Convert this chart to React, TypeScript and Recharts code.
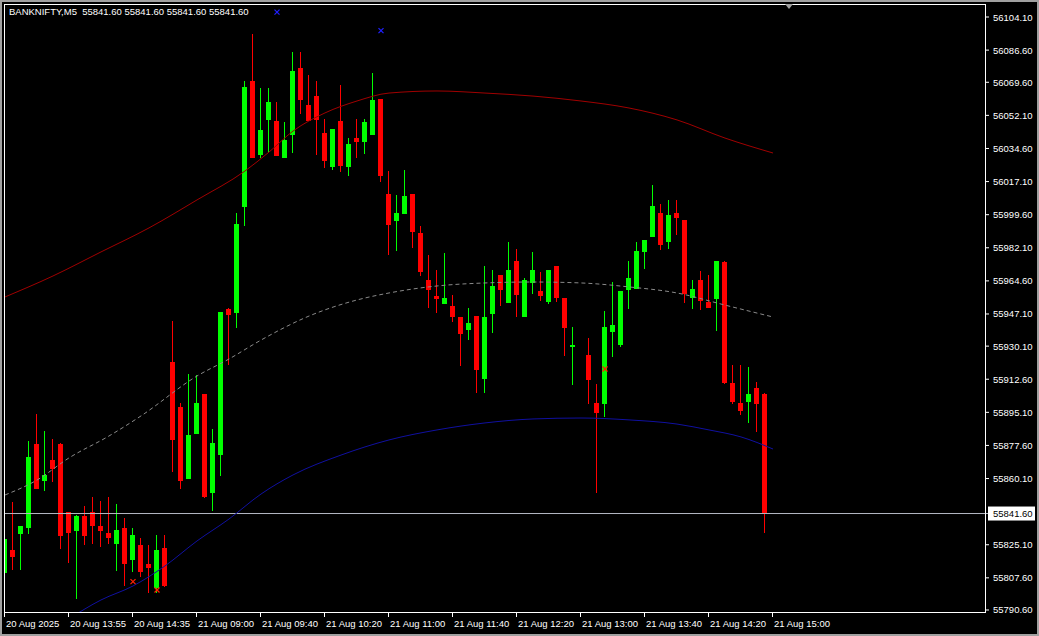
import React from 'react';
import { ComposedChart, Bar, Line, Scatter, XAxis, YAxis, ReferenceLine } from 'recharts';

// BANKNIFTY M5 bars, index 0 = 20 Aug 13:15 (index 72 not visible, 96 = current tick)
const opens = [
  55810.0, 55822.3, 55830.9, 55834.0, 55878.4, 55858.8, 55869.9, 55878.4, 55842.4, 55832.4,
  55840.3, 55842.4, 55835.0, 55831.3, 55825.7, 55834.0, 55817.0, 55825.0, 55814.9, 55802.4,
  55823.5, 55921.9, 55897.9, 55860.0, 55883.8, 55904.8, 55852.5, 55872.6, 55949.7, 55947.8,
  56003.7, 56070.3, 56031.2, 56049.7, 56049.1, 56029.6, 56041.7, 56077.1, 56057.6, 56062.3,
  56042.8, 56024.8, 56049.1, 56024.8, 56040.1, 56038.0, 56041.7, 56060.8, 56010.5, 55996.3,
  55999.9, 56010.5, 55989.9, 55965.1, 55956.6, 55952.4, 55951.3, 55945.5, 55938.8, 55946.0,
  55912.9, 55947.2, 55967.7, 55953.1, 55975.1, 55945.7, 55963.6, 55959.2, 55953.6, 55972.5,
  55955.6, 55929.6, null, 55925.4, 55900.0, 55899.7, 55937.7, 55930.9, 55959.9, 55960.5,
  55980.0, 55988.0, 56000.5, 55985.3, 56000.5, 55996.8, 55955.6, 55965.1, 55953.4, 55955.2,
  55974.6, 55910.6, 55900.0, 55900.7, 55908.0, 55904.8, 55841.6,
];
const highs = [
  55828.7, 55847.9, 55835.0, 55880.0, 55894.2, 55885.2, 55881.0, 55879.0, 55842.4, 55840.8,
  55845.6, 55850.3, 55848.2, 55850.3, 55846.6, 55839.2, 55834.0, 55828.7, 55825.0, 55830.3,
  55830.3, 55943.4, 55900.0, 55915.4, 55914.8, 55904.8, 55886.3, 55948.1, 55950.2, 56000.5,
  56070.3, 56095.1, 56066.6, 56066.6, 56059.2, 56048.6, 56085.6, 56085.6, 56073.4, 56070.3,
  56050.2, 56044.9, 56068.2, 56040.1, 56050.2, 56050.2, 56074.5, 56060.8, 56022.7, 56010.0,
  56023.2, 56010.5, 55993.6, 55978.3, 55970.4, 55979.3, 55957.1, 55945.5, 55950.2, 55946.0,
  55972.5, 55970.4, 55967.7, 55985.2, 55981.5, 55966.1, 55979.9, 55969.3, 55970.4, 55972.5,
  55955.6, 55940.2, null, 55934.4, 55910.1, 55948.7, 55964.0, 55959.2, 55975.1, 55985.2,
  55986.2, 56015.3, 56005.2, 56007.4, 56007.4, 55996.8, 55965.1, 55969.8, 55967.7, 55975.1,
  55975.1, 55920.1, 55920.1, 55919.1, 55911.1, 55905.3, 55841.6,
];
const lows = [
  55809.6, 55811.7, 55811.7, 55830.9, 55854.6, 55853.7, 55858.4, 55822.9, 55815.6, 55796.4,
  55825.0, 55825.5, 55823.9, 55825.5, 55811.4, 55803.5, 55810.9, 55808.2, 55799.8, 55799.8,
  55802.9, 55863.7, 55854.7, 55860.0, 55883.8, 55850.0, 55843.1, 55861.4, 55920.1, 55939.8,
  55993.6, 56029.6, 56029.6, 56032.2, 56030.6, 56029.6, 56032.2, 56052.8, 56049.1, 56031.2,
  56024.3, 56023.2, 56022.2, 56020.0, 56029.6, 56031.7, 56041.7, 56016.9, 55978.3, 55980.4,
  55999.9, 55982.1, 55967.2, 55950.4, 55947.8, 55952.4, 55943.0, 55919.8, 55933.5, 55905.5,
  55905.5, 55937.2, 55951.5, 55953.1, 55945.7, 55945.7, 55957.8, 55954.1, 55952.5, 55953.6,
  55925.0, 55909.7, null, 55899.7, 55852.6, 55892.8, 55924.5, 55929.8, 55949.9, 55960.5,
  55971.0, 55988.0, 55981.1, 55981.6, 55989.0, 55953.1, 55949.9, 55949.4, 55950.4, 55938.3,
  55910.2, 55899.7, 55893.9, 55889.6, 55884.9, 55831.5, 55841.6,
];
const closes = [
  55828.0, 55818.8, 55835.0, 55871.5, 55854.6, 55862.0, 55865.1, 55829.7, 55831.5, 55840.3,
  55829.7, 55835.0, 55832.4, 55828.8, 55832.9, 55815.1, 55830.3, 55810.9, 55813.0, 55822.3,
  55803.5, 55880.6, 55859.0, 55883.1, 55900.0, 55850.5, 55878.9, 55948.1, 55946.6, 55994.7,
  56067.1, 56029.6, 56044.4, 56059.2, 56030.6, 56039.1, 56075.6, 56060.2, 56049.1, 56049.7,
  56028.0, 56044.9, 56025.3, 56037.0, 56038.0, 56048.6, 56060.2, 56020.0, 55994.1, 56000.5,
  56009.5, 55990.6, 55969.3, 55959.9, 55955.0, 55955.6, 55945.7, 55936.7, 55942.3, 55917.6,
  55945.5, 55961.9, 55959.9, 55970.4, 55957.3, 55965.1, 55970.4, 55956.8, 55970.4, 55955.7,
  55939.8, 55930.7, null, 55912.4, 55894.9, 55940.2, 55941.3, 55959.2, 55966.1, 55980.4,
  55986.2, 56004.2, 55983.7, 55999.4, 55998.0, 55957.8, 55960.3, 55954.1, 55950.4, 55975.1,
  55910.8, 55900.7, 55896.0, 55904.8, 55899.7, 55841.6, 55841.6,
];

// envelope bands read at a few bar positions
const upperIdx = [0, 6, 12, 18, 24, 30, 33, 36, 40, 44, 48, 54, 60, 66, 72, 78, 84, 90, 96];
const upperBand = [55956.1, 55967.2, 55979.9, 55992.6, 56007.4, 56022.7, 56032.7, 56043.8, 56053.4, 56059.7, 56063.9, 56065.0, 56063.9, 56062.3, 56059.7, 56056.0, 56049.7, 56040.1, 56032.2];
const midIdx = [0, 4, 8, 13, 17, 24, 28, 32, 38, 44, 48, 54, 60, 66, 72, 78, 84, 90, 96];
const midBand = [55851.4, 55859.3, 55871.0, 55882.6, 55893.2, 55914.3, 55923.3, 55933.3, 55946.0, 55954.5, 55958.2, 55961.9, 55963.5, 55964.0, 55963.5, 55961.4, 55958.2, 55951.8, 55945.5];
const lowerIdx = [8, 12, 16, 20, 24, 28, 32, 36, 42, 48, 54, 60, 66, 72, 78, 84, 88, 92, 96];
const lowerBand = [55786.0, 55795.9, 55803.3, 55813.9, 55827.1, 55838.7, 55851.9, 55862.0, 55872.5, 55880.5, 55885.8, 55889.5, 55891.6, 55892.1, 55891.1, 55888.9, 55885.8, 55882.1, 55875.7];

// arrow signals
const redMarkIdx = [16, 19, 75];
const redMarkVal = [55805.6, 55801.2, 55918.0];
const blueMarkIdx = [34, 47];
const blueMarkVal = [56106.7, 56096.9];

const timeTickIdx = [0, 8, 16, 24, 32, 40, 48, 56, 64, 72, 80, 88, 96];
const timeLabels = [
  '20 Aug 2025', '20 Aug 13:55', '20 Aug 14:35', '21 Aug 09:00', '21 Aug 09:40', '21 Aug 10:20',
  '21 Aug 11:00', '21 Aug 11:40', '21 Aug 12:20', '21 Aug 13:00', '21 Aug 13:40', '21 Aug 14:20', '21 Aug 15:00',
];
const priceTicks = [
  56104.1, 56086.6, 56069.6, 56052.1, 56034.6, 56017.1, 55999.6, 55982.1, 55964.6, 55947.1,
  55930.1, 55912.6, 55895.1, 55877.6, 55860.1, 55825.1, 55807.6, 55790.6,
];
const lastPrice = 55841.6;

const FONT = "'Liberation Sans', Arial, sans-serif";

const data = opens.map((o, i) => ({
  k: i,
  o,
  h: highs[i],
  l: lows[i],
  c: closes[i],
  range: o == null ? null : [lows[i], highs[i]],
  upper: null as number | null,
  mid: null as number | null,
  lower: null as number | null,
}));
upperIdx.forEach((k, i) => { data[k].upper = upperBand[i]; });
midIdx.forEach((k, i) => { data[k].mid = midBand[i]; });
lowerIdx.forEach((k, i) => { data[k].lower = lowerBand[i]; });

const redMarks = redMarkIdx.map((k, i) => ({ k, v: redMarkVal[i] }));
const blueMarks = blueMarkIdx.map((k, i) => ({ k, v: blueMarkVal[i] }));

const Candle = (props: any) => {
  const { x, y, width, height, payload } = props;
  if (!payload || payload.o == null) return null;
  const { o, h, l, c } = payload;
  const top = Math.min(y, y + height);
  const span = Math.abs(height);
  const toY = (p: number) => (h === l ? top : top + ((h - p) / (h - l)) * span);
  const cx = Math.floor(x + width / 2);
  const color = c > o ? '#00ff00' : c < o ? '#ff0000' : '#000000';
  const wTop = Math.round(top);
  const wBot = Math.round(top + span);
  const bTop = Math.round(toY(Math.max(o, c)));
  const bBot = Math.round(toY(Math.min(o, c)));
  return (
    <g>
      <rect x={cx} y={wTop} width={1} height={Math.max(1, wBot - wTop)} fill={color} />
      <rect x={cx - 2} y={bTop} width={5} height={Math.max(1, bBot - bTop)} fill={color} />
    </g>
  );
};

const xMark = (color: string) => (props: any) => {
  const { cx, cy } = props;
  return (
    <g stroke={color} strokeWidth={1.3}>
      <line x1={cx - 2.5} y1={cy - 2.5} x2={cx + 2.5} y2={cy + 2.5} />
      <line x1={cx - 2.5} y1={cy + 2.5} x2={cx + 2.5} y2={cy - 2.5} />
    </g>
  );
};

const TimeTick = (props: any) => {
  const { x, y, payload } = props;
  const label = timeLabels[timeTickIdx.indexOf(payload.value)];
  return (
    <g>
      <line x1={x - 0.5} x2={x - 0.5} y1={612} y2={617} stroke="#ffffff" />
      <text x={x + 1} y={627} fill="#ffffff" fontSize={9.5} fontFamily={FONT}>{label}</text>
    </g>
  );
};

const PriceTick = (props: any) => {
  const { y, payload } = props;
  return (
    <g>
      <line x1={985} x2={989} y1={y} y2={y} stroke="#ffffff" />
      <text x={993} y={y + 3.5} fill="#ffffff" fontSize={9.5} fontFamily={FONT}>{payload.value.toFixed(2)}</text>
    </g>
  );
};

const PriceTag = (props: any) => {
  const { viewBox } = props;
  const x = viewBox.x + viewBox.width;
  const y = viewBox.y;
  return (
    <g>
      <line x1={x} x2={x + 4} y1={y} y2={y} stroke="#b4b8c4" />
      <rect x={x + 3} y={y - 7} width={47} height={14} fill="#ffffff" />
      <text x={x + 8} y={y + 3.5} fill="#000000" fontSize={9.5} fontFamily={FONT}>{lastPrice.toFixed(2)}</text>
    </g>
  );
};

const App = () => {
  return (
    <div style={{ position: 'fixed', left: 0, top: 0, width: 1039, height: 636, background: '#000000' }}>
      <ComposedChart width={1039} height={636} data={data} margin={{ top: 4, right: 0, bottom: 0, left: 4 }}>
        <XAxis
          type="number"
          dataKey="k"
          domain={[-0.125, 122.5]}
          ticks={timeTickIdx}
          interval={0}
          allowDataOverflow
          height={24}
          tickLine={false}
          axisLine={false}
          tick={<TimeTick />}
        />
        <YAxis
          orientation="right"
          type="number"
          domain={[55789.54, 56110.98]}
          ticks={priceTicks}
          interval={0}
          allowDataOverflow
          width={54}
          tickLine={false}
          axisLine={false}
          tick={<PriceTick />}
        />
        <ReferenceLine y={lastPrice} stroke="#b4b8c4" strokeWidth={1} label={<PriceTag />} />
        <Line type="monotone" dataKey="upper" stroke="#a00000" strokeWidth={1} dot={false} activeDot={false} connectNulls isAnimationActive={false} />
        <Line type="monotone" dataKey="mid" stroke="#8a8a8a" strokeWidth={1} strokeDasharray="4 3" dot={false} activeDot={false} connectNulls isAnimationActive={false} />
        <Line type="monotone" dataKey="lower" stroke="#1010a0" strokeWidth={1} dot={false} activeDot={false} connectNulls isAnimationActive={false} />
        <Bar dataKey="range" barSize={5} shape={<Candle />} isAnimationActive={false} />
        <Scatter data={redMarks} dataKey="v" shape={xMark('#ff2000')} isAnimationActive={false} />
        <Scatter data={blueMarks} dataKey="v" shape={xMark('#2020ff')} isAnimationActive={false} />
      </ComposedChart>
      {/* plot frame */}
      <div style={{ position: 'absolute', left: 4, top: 4, width: 982, height: 609, border: '1px solid #ffffff', boxSizing: 'border-box', pointerEvents: 'none' }} />
      {/* window frame */}
      <div style={{ position: 'absolute', left: 0, top: 0, width: 1039, height: 636, border: '2px solid #a0a0a0', boxSizing: 'border-box', pointerEvents: 'none' }} />
      {/* chart shift marker */}
      <div style={{ position: 'absolute', left: 785, top: 4, width: 0, height: 0, borderLeft: '4px solid transparent', borderRight: '4px solid transparent', borderTop: '5px solid #a0a0a0' }} />
      <div style={{ position: 'absolute', left: 9, top: 6, color: '#ffffff', fontFamily: FONT, fontSize: 9.5, whiteSpace: 'pre', lineHeight: '11px' }}>
        {'BANKNIFTY,M5  55841.60 55841.60 55841.60 55841.60'}
      </div>
    </div>
  );
};

export default App;
